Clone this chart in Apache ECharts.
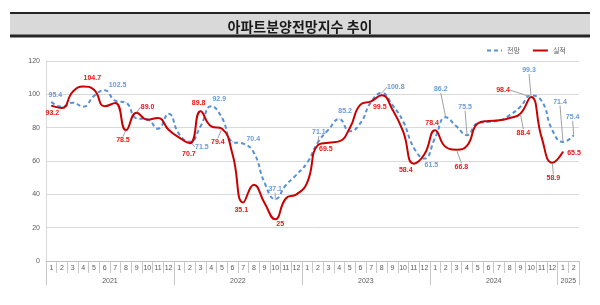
<!DOCTYPE html>
<html><head><meta charset="utf-8">
<script src="https://cdn.jsdelivr.net/npm/echarts@6/dist/echarts.min.js"></script>
<style>html,body{margin:0;padding:0;background:#fff}#c{width:600px;height:305px}</style>
</head><body><div id="c"></div>
<script>
// ---------- data ----------
const years = ['2021', '2022', '2023', '2024', '2025'];
const categories = [
  '2021-1','2021-2','2021-3','2021-4','2021-5','2021-6','2021-7','2021-8','2021-9','2021-10','2021-11','2021-12',
  '2022-1','2022-2','2022-3','2022-4','2022-5','2022-6','2022-7','2022-8','2022-9','2022-10','2022-11','2022-12',
  '2023-1','2023-2','2023-3','2023-4','2023-5','2023-6','2023-7','2023-8','2023-9','2023-10','2023-11','2023-12',
  '2024-1','2024-2','2024-3','2024-4','2024-5','2024-6','2024-7','2024-8','2024-9','2024-10','2024-11','2024-12',
  '2025-1','2025-2'
];
// 전망 (outlook)
const outlook = [
  95.4, 92.5, 95.0, 92.6, 99.0, 102.5, 96.2, 95.0, 85.6, 85.0, 79.4, 88.3,
  76.0, 71.5, 80.8, 92.9, 86.0, 71.5, 70.4, 65.0, 47.0, 37.1, 45.5, 51.8,
  59.0, 71.1, 78.8, 85.2, 77.8, 82.8, 95.5, 100.8, 93.5, 83.8, 68.0, 61.5,
  73.8, 86.2, 80.8, 75.5, 82.8, 83.5, 84.2, 87.5, 92.5, 99.3, 96.0, 78.5,
  71.4, 75.4
];
// 실적 (actual)
const actual = [
  93.2, 91.8, 101.5, 104.7, 102.8, 92.8, 94.8, 78.5, 89.0, 84.8, 85.8, 78.8,
  74.0, 70.7, 89.8, 80.8, 79.4, 64.0, 35.1, 45.8, 34.8, 25, 37.5, 40.0,
  47.0, 69.5, 71.0, 71.8, 79.8, 93.8, 95.8, 99.5, 90.8, 77.8, 58.4, 64.0,
  78.4, 68.4, 66.8, 69.2, 82.5, 84.0, 84.4, 85.8, 88.4, 98.4, 74.0, 58.9,
  65.5, null
];
const yTicks = [0, 20, 40, 60, 80, 100, 120];
// data label texts (index -> text)
const outlookLabelText = {0:'95.4',5:'102.5',13:'71.5',15:'92.9',18:'70.4',21:'37.1',25:'71.1',27:'85.2',31:'100.8',35:'61.5',37:'86.2',39:'75.5',45:'99.3',48:'71.4',49:'75.4'};
const actualLabelText = {0:'93.2',3:'104.7',7:'78.5',8:'89.0',13:'70.7',14:'89.8',16:'79.4',18:'35.1',21:'25',25:'69.5',31:'99.5',34:'58.4',36:'78.4',38:'66.8',44:'88.4',45:'98.4',47:'58.9',48:'65.5'};

// ---------- label placement (offsets of label centre from its point) ----------
const outlookOffsets = {0:[4,-7],5:[13,-5],13:[12,5],15:[8,-7],18:[10,-5],21:[0,-10],25:[1,-10],27:[6,-8],31:[14,-6],35:[7,7],37:[-5,-28],39:[-2,-28],45:[-2,-25],48:[-3,-40],49:[-1,-18]};
const outlookLeaders = [13,21,25,31,37,39,45,48,49];
const actualOffsets = {0:[1,7],3:[9,-8],7:[-3,10],8:[11,-6],13:[-1,11],14:[-2,-8],16:[-4,13],18:[-2,8],21:[5,5],25:[8,4],31:[-2,12],34:[-8,6],36:[-3,-7],38:[5,17],44:[3,19],45:[-28,-7],47:[1,15],48:[11,1]};
const actualLeaders = [7,8,16,38,44,45,47];

const FONT = "'Liberation Sans', 'Noto Sans CJK KR', sans-serif";
const BLUE = '#5690d6', BLUE_TXT = '#6a9bd8', RED = '#c80000', RED_TXT = '#f01515';

function build(values, texts, leaders) {
  return values.map((v, i) => {
    if (!(i in texts)) return v;
    return {
      value: v,
      label: { show: true, formatter: texts[i] },
      labelLine: { show: leaders.indexOf(i) >= 0 }
    };
  });
}
function layoutFn(offsets) {
  return function (p) {
    const o = offsets[p.dataIndex];
    if (!o) return {};
    return { dx: o[0], dy: o[1] };
  };
}

const chart = echarts.init(document.getElementById('c'), null, { renderer: 'canvas' });
chart.setOption({
  animation: false,
  textStyle: { fontFamily: FONT },
  title: {
    text: '아파트분양전망지수 추이',
    left: 'center', top: 15,
    textStyle: { fontFamily: "'Noto Sans CJK KR', sans-serif", fontSize: 14, fontWeight: 'bold', color: '#1a1a1a' }
  },
  graphic: [
    { type: 'rect', z: -1, shape: { x: 10, y: 13, width: 580, height: 23 }, style: { fill: '#d9d9d9' } },
    { type: 'line', shape: { x1: 10, y1: 13, x2: 590, y2: 13 }, style: { stroke: '#262626', lineWidth: 2 } },
    { type: 'line', shape: { x1: 10, y1: 36, x2: 590, y2: 36 }, style: { stroke: '#262626', lineWidth: 3 } }
  ],
  legend: {
    left: 481, top: 42, itemWidth: 15, itemHeight: 8, itemGap: 12,
    itemStyle: { opacity: 0 },
    textStyle: { fontSize: 7, color: '#595959', fontFamily: "'Noto Sans CJK KR', sans-serif" },
    data: ['전망', '실적']
  },
  grid: { left: 46, right: 21, top: 61, bottom: 44 },
  xAxis: [
    {
      type: 'category', data: categories, boundaryGap: true,
      axisLine: { lineStyle: { color: '#bfbfbf', width: 1 } },
      axisTick: { show: true, interval: 0, length: 12, lineStyle: { color: '#c8c8c8' } },
      axisLabel: { interval: 0, fontSize: 7, color: '#595959', margin: 4, formatter: v => v.split('-')[1] },
      splitLine: { show: false }
    },
    {
      type: 'value', min: 0, max: categories.length, position: 'bottom', gridIndex: 0,
      axisLine: { show: false }, splitLine: { show: false },
      axisTick: { show: true, length: 24, customValues: [0, 12, 24, 36, 48, 50], lineStyle: { color: '#c8c8c8' } },
      axisLabel: { fontSize: 7, color: '#595959', margin: 17, customValues: [6, 18, 30, 42, 49],
        formatter: v => years[Math.floor(v / 12)] }
    }
  ],
  yAxis: {
    type: 'value', min: yTicks[0], max: yTicks[yTicks.length - 1], interval: 20,
    axisLine: { show: true, lineStyle: { color: '#d9d9d9' } },
    axisTick: { show: false },
    axisLabel: { fontSize: 7, color: '#595959', margin: 6 },
    splitLine: { lineStyle: { color: '#d9d9d9', width: 1 } }
  },
  series: [
    {
      name: '전망', type: 'line', xAxisIndex: 0, smooth: 0.5,
      symbol: 'circle', symbolSize: 1, itemStyle: { color: BLUE },
      lineStyle: { color: BLUE, width: 2, type: [4, 3] },
      data: build(outlook, outlookLabelText, outlookLeaders),
      label: { show: false, position: 'inside', fontSize: 7, fontWeight: 'bold', color: BLUE_TXT, fontFamily: FONT },
      labelLine: { show: true, lineStyle: { color: '#a0a0a0', width: 1 } },
      labelLayout: layoutFn(outlookOffsets),
      z: 2
    },
    {
      name: '실적', type: 'line', xAxisIndex: 0, smooth: 0.5, connectNulls: false,
      symbol: 'circle', symbolSize: 1, itemStyle: { color: RED },
      lineStyle: { color: RED, width: 2 },
      data: build(actual, actualLabelText, actualLeaders),
      label: { show: false, position: 'inside', fontSize: 7, fontWeight: 'bold', color: RED_TXT, fontFamily: FONT },
      labelLine: { show: true, lineStyle: { color: '#a0a0a0', width: 1 } },
      labelLayout: layoutFn(actualOffsets),
      z: 3
    }
  ]
});
</script>
</body></html>
